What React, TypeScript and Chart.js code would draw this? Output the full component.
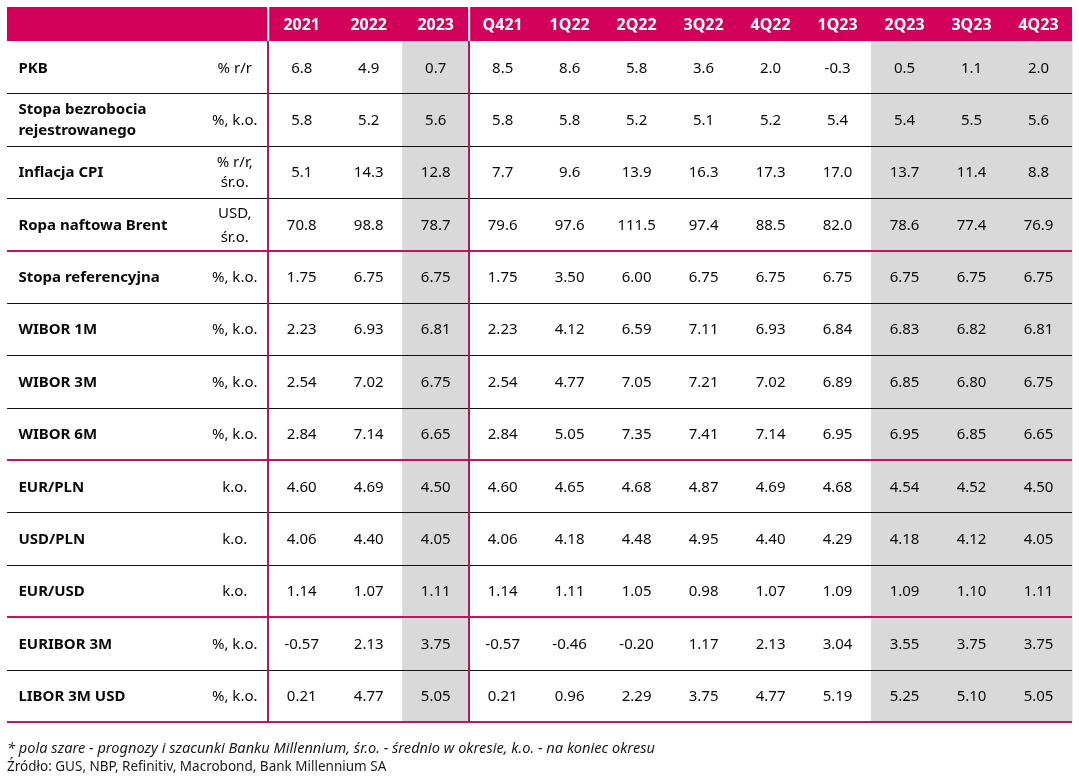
import React, { useEffect, useRef } from "react";
import { Chart, registerables } from "chart.js";

Chart.register(...registerables);

// ---------- data ----------
const columns = ["2021", "2022", "2023", "Q421", "1Q22", "2Q22", "3Q22", "4Q22", "1Q23", "2Q23", "3Q23", "4Q23"];
const forecastColumns = [2, 9, 10, 11];

const rowLabels = [
  "PKB",
  "Stopa bezrobocia\nrejestrowanego",
  "Inflacja CPI",
  "Ropa naftowa Brent",
  "Stopa referencyjna",
  "WIBOR 1M",
  "WIBOR 3M",
  "WIBOR 6M",
  "EUR/PLN",
  "USD/PLN",
  "EUR/USD",
  "EURIBOR 3M",
  "LIBOR 3M USD",
];
const rowUnits = [
  "% r/r",
  "%, k.o.",
  "% r/r,\nśr.o.",
  "USD,\nśr.o.",
  "%, k.o.",
  "%, k.o.",
  "%, k.o.",
  "%, k.o.",
  "k.o.",
  "k.o.",
  "k.o.",
  "%, k.o.",
  "%, k.o.",
];
const rowDecimals = [1, 1, 1, 1, 2, 2, 2, 2, 2, 2, 2, 2, 2];
const groupEndRows = [4, 8, 11, 13];

const pkb = [6.8, 4.9, 0.7, 8.5, 8.6, 5.8, 3.6, 2.0, -0.3, 0.5, 1.1, 2.0];
const bezrobocie = [5.8, 5.2, 5.6, 5.8, 5.8, 5.2, 5.1, 5.2, 5.4, 5.4, 5.5, 5.6];
const inflacja = [5.1, 14.3, 12.8, 7.7, 9.6, 13.9, 16.3, 17.3, 17.0, 13.7, 11.4, 8.8];
const brent = [70.8, 98.8, 78.7, 79.6, 97.6, 111.5, 97.4, 88.5, 82.0, 78.6, 77.4, 76.9];
const stopaRef = [1.75, 6.75, 6.75, 1.75, 3.5, 6.0, 6.75, 6.75, 6.75, 6.75, 6.75, 6.75];
const wibor1m = [2.23, 6.93, 6.81, 2.23, 4.12, 6.59, 7.11, 6.93, 6.84, 6.83, 6.82, 6.81];
const wibor3m = [2.54, 7.02, 6.75, 2.54, 4.77, 7.05, 7.21, 7.02, 6.89, 6.85, 6.8, 6.75];
const wibor6m = [2.84, 7.14, 6.65, 2.84, 5.05, 7.35, 7.41, 7.14, 6.95, 6.95, 6.85, 6.65];
const eurpln = [4.6, 4.69, 4.5, 4.6, 4.65, 4.68, 4.87, 4.69, 4.68, 4.54, 4.52, 4.5];
const usdpln = [4.06, 4.4, 4.05, 4.06, 4.18, 4.48, 4.95, 4.4, 4.29, 4.18, 4.12, 4.05];
const eurusd = [1.14, 1.07, 1.11, 1.14, 1.11, 1.05, 0.98, 1.07, 1.09, 1.09, 1.1, 1.11];
const euribor3m = [-0.57, 2.13, 3.75, -0.57, -0.46, -0.2, 1.17, 2.13, 3.04, 3.55, 3.75, 3.75];
const libor3m = [0.21, 4.77, 5.05, 0.21, 0.96, 2.29, 3.75, 4.77, 5.19, 5.25, 5.1, 5.05];

const rowValues = [pkb, bezrobocie, inflacja, brent, stopaRef, wibor1m, wibor3m, wibor6m, eurpln, usdpln, eurusd, euribor3m, libor3m];

const footnote = "* pola szare - prognozy i szacunki Banku Millennium, śr.o. - średnio w okresie, k.o. - na koniec okresu";
const source = "Źródło: GUS, NBP, Refinitiv, Macrobond, Bank Millennium SA";

// ---------- layout in scale units ----------
const X_MIN = -3.9;
const X_MAX = columns.length;
const HEADER = -0.65;
const NROWS = rowLabels.length;
const LABEL_X = -3.73;
const UNIT_X = -0.5;

const FONT = "'Noto Sans', 'Open Sans', sans-serif";
const MAGENTA = "#d2005a";
const LINE_MAGENTA = "#c8125e";
const VLINE = "#a81c66";

const tablePlugin = {
  id: "tablePlugin",
  beforeDatasetsDraw(chart: any) {
    const { ctx } = chart;
    const x = chart.scales.x;
    const y = chart.scales.y;
    const px = (v: number) => x.getPixelForValue(v);
    const py = (v: number) => y.getPixelForValue(v);
    ctx.save();
    // forecast shading
    ctx.fillStyle = "#d9d9d9";
    forecastColumns.forEach((c) => {
      ctx.fillRect(px(c), py(0), px(c + 1) - px(c) + 0.5, py(NROWS) - py(0));
    });
    // header band
    ctx.fillStyle = MAGENTA;
    ctx.fillRect(px(X_MIN), py(HEADER), px(X_MAX) - px(X_MIN), py(0) - py(HEADER));
    // header separators
    ctx.fillStyle = "#ffffff";
    [0, 3].forEach((c) => ctx.fillRect(px(c) - 1, py(HEADER), 2, py(0) - py(HEADER)));
    // horizontal lines
    for (let r = 1; r <= NROWS; r++) {
      const isGroup = groupEndRows.includes(r);
      ctx.fillStyle = isGroup ? LINE_MAGENTA : "#111111";
      const h = isGroup ? 2 : 1;
      ctx.fillRect(px(X_MIN), Math.round(py(r)) - (isGroup ? 1 : 0), px(X_MAX) - px(X_MIN), h);
    }
    // vertical lines in body
    ctx.fillStyle = VLINE;
    [0, 3].forEach((c) => ctx.fillRect(Math.round(px(c)) - 1, py(0), 2, py(NROWS) - py(0)));
    ctx.restore();
  },
  afterDatasetsDraw(chart: any) {
    const { ctx } = chart;
    const x = chart.scales.x;
    const y = chart.scales.y;
    const px = (v: number) => x.getPixelForValue(v);
    const py = (v: number) => y.getPixelForValue(v);
    ctx.save();
    ctx.textBaseline = "middle";
    // header
    ctx.fillStyle = "#ffffff";
    ctx.font = `bold 16px ${FONT}`;
    ctx.textAlign = "center";
    columns.forEach((c, i) => ctx.fillText(c, px(i + 0.5), py(HEADER / 2) + 1));
    // row labels and units
    ctx.fillStyle = "#0a0a0a";
    rowLabels.forEach((lab, r) => {
      const cy = py(r + 0.5);
      const lines = lab.split("\n");
      ctx.font = `bold 15px ${FONT}`;
      ctx.textAlign = "left";
      lines.forEach((ln, k) => ctx.fillText(ln, px(LABEL_X), cy + (k - (lines.length - 1) / 2) * 21 + 1));
      const ulines = rowUnits[r].split("\n");
      ctx.font = `15px ${FONT}`;
      ctx.textAlign = "center";
      const sp = r === 3 ? 24 : 20;
      ulines.forEach((ln, k) => ctx.fillText(ln, px(UNIT_X), cy + (k - (ulines.length - 1) / 2) * sp + 1));
    });
    // values, positioned at the dataset's points
    ctx.font = `15px ${FONT}`;
    ctx.textAlign = "center";
    chart.data.datasets.forEach((ds: any, di: number) => {
      const meta = chart.getDatasetMeta(di);
      meta.data.forEach((pt: any, i: number) => {
        const raw = ds.data[i];
        ctx.fillText(raw.v.toFixed(rowDecimals[raw.r]), pt.x, pt.y + 1);
      });
    });
    // footer
    ctx.textAlign = "left";
    ctx.textBaseline = "alphabetic";
    ctx.fillStyle = "#1a1a1a";
    ctx.font = `italic 14.6px ${FONT}`;
    ctx.fillText(footnote, px(X_MIN), py(NROWS) + 31);
    ctx.font = `13.5px ${FONT}`;
    ctx.fillText(source, px(X_MIN), py(NROWS) + 49);
    ctx.restore();
  },
};

export default function App() {
  const ref = useRef<HTMLCanvasElement>(null);
  useEffect(() => {
    document.body.style.margin = "0";
    const points: any[] = [];
    rowValues.forEach((vals, r) => {
      vals.forEach((v, c) => points.push({ x: c + 0.5, y: r + 0.5, v, r }));
    });
    const chart = new Chart(ref.current as HTMLCanvasElement, {
      type: "scatter",
      data: {
        datasets: [
          {
            data: points,
            pointRadius: 0,
            pointHoverRadius: 0,
            backgroundColor: "rgba(0,0,0,0)",
          },
        ],
      },
      options: {
        responsive: false,
        animation: false,
        events: [],
        layout: { padding: { left: 7, right: 7, top: 7, bottom: 59 } },
        plugins: { legend: { display: false }, tooltip: { enabled: false } },
        scales: {
          x: { type: "linear", min: X_MIN, max: X_MAX, display: false },
          y: { type: "linear", min: HEADER, max: NROWS, reverse: true, display: false },
        },
      },
      plugins: [tablePlugin],
    });
    return () => chart.destroy();
  }, []);
  return (
    <div style={{ width: 1079, height: 781, background: "#fff" }}>
      <canvas ref={ref} width={1079} height={781} style={{ display: "block" }} />
    </div>
  );
}
